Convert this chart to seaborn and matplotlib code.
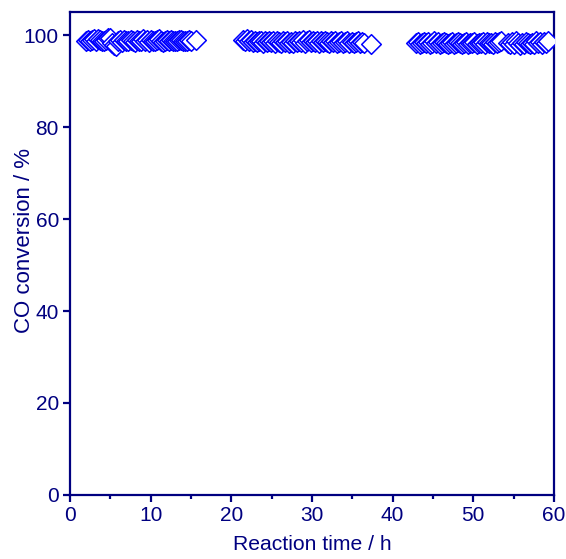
import matplotlib
matplotlib.use("Agg")
import matplotlib.pyplot as plt
import seaborn as sns
import pandas as pd
from matplotlib.ticker import MultipleLocator

# --- data ---
time_seg1 = [2.0, 2.25, 2.5, 2.75, 3.0, 3.25, 3.5, 3.75, 4.0, 4.25, 4.5, 4.75, 5.0,
             5.25, 5.5, 5.75, 6.0, 6.25, 6.5, 6.75, 7.0, 7.25, 7.5, 7.75, 8.0, 8.25,
             8.5, 8.75, 9.0, 9.25, 9.5, 9.75, 10.0, 10.25, 10.5, 10.75, 11.0, 11.25,
             11.5, 11.75, 12.0, 12.25, 12.5, 12.75, 13.0, 13.25, 13.5, 13.75, 14.0,
             14.25, 14.5, 14.75, 15.0, 15.6]
conv_seg1 = [98.8, 99.0, 98.6, 98.9, 99.1, 98.7, 99.2, 98.9, 98.6, 98.8,
             99.0, 99.4, 99.3, 98.2, 97.8, 97.6, 98.8, 99.0, 98.5, 98.9,
             98.6, 98.7, 99.0, 98.8, 98.4, 98.9, 98.6, 98.8, 99.1, 98.7,
             98.9, 98.5, 99.0, 98.8, 98.6, 98.9, 99.1, 98.7, 98.5, 98.8,
             99.0, 98.6, 98.9, 98.7, 98.8, 98.6, 98.9, 99.0, 98.7, 98.8,
             98.6, 98.9, 98.7, 98.9]
time_seg2 = [21.4, 21.65, 21.9, 22.15, 22.4, 22.65, 22.9, 23.15, 23.4, 23.65, 23.9,
             24.15, 24.4, 24.65, 24.9, 25.15, 25.4, 25.65, 25.9, 26.15, 26.4, 26.65,
             26.9, 27.15, 27.4, 27.65, 27.9, 28.15, 28.4, 28.65, 28.9, 29.15, 29.4,
             29.65, 29.9, 30.15, 30.4, 30.65, 30.9, 31.15, 31.4, 31.65, 31.9, 32.15,
             32.4, 32.65, 32.9, 33.15, 33.4, 33.65, 33.9, 34.15, 34.4, 34.65, 34.9,
             35.15, 35.4, 35.65, 35.9, 36.15, 36.4, 37.3]
conv_seg2 = [99.0, 98.8, 99.1, 98.7, 98.9, 98.5, 98.8, 98.4, 98.7, 98.6,
             98.3, 98.7, 98.5, 98.8, 98.4, 98.6, 98.2, 98.7, 98.5, 98.3,
             98.6, 98.4, 98.7, 98.2, 98.5, 98.3, 98.6, 98.4, 98.7, 98.5,
             98.9, 98.3, 98.6, 99.0, 98.4, 98.7, 98.5, 98.8, 98.3, 98.6,
             98.4, 98.7, 98.5, 98.2, 98.6, 98.4, 98.7, 98.3, 98.5, 98.6,
             98.2, 98.4, 98.6, 98.3, 98.5, 98.2, 98.4, 98.6, 98.3, 98.5,
             98.2, 98.0]
time_seg3 = [42.9, 43.15, 43.4, 43.65, 43.9, 44.15, 44.4, 44.65, 44.9, 45.15, 45.4,
             45.65, 45.9, 46.15, 46.4, 46.65, 46.9, 47.15, 47.4, 47.65, 47.9, 48.15,
             48.4, 48.65, 48.9, 49.15, 49.4, 49.65, 49.9, 50.15, 50.4, 50.65, 50.9,
             51.15, 51.4, 51.65, 51.9, 52.15, 52.4, 52.65, 52.9, 53.15, 53.4]
conv_seg3 = [98.2, 98.4, 98.1, 98.3, 98.5, 98.2, 98.4, 98.1, 98.3, 98.6,
             98.2, 98.4, 98.1, 98.3, 98.5, 98.2, 98.0, 98.3, 98.4, 98.1,
             98.3, 98.5, 98.2, 98.0, 98.3, 98.4, 98.1, 98.3, 98.2, 98.4,
             98.1, 98.3, 98.2, 98.4, 98.1, 98.5, 98.2, 98.3, 98.1, 98.4,
             98.2, 98.5, 98.6]
time_seg4 = [54.3, 54.55, 54.8, 55.05, 55.3, 55.55, 55.8, 56.05, 56.3, 56.55, 56.8,
             57.05, 57.3, 57.55, 57.8, 58.05, 58.3, 58.55, 58.8, 59.05, 59.3]
conv_seg4 = [98.3, 98.0, 98.4, 98.1, 98.6, 98.2, 97.9, 98.3, 98.1, 98.5,
             98.2, 98.0, 98.3, 98.1, 98.6, 98.2, 98.4, 98.1, 98.5, 98.3, 98.7]

x_ticks = [0, 10, 20, 30, 40, 50, 60]
y_ticks = [0, 20, 40, 60, 80, 100]

df = pd.DataFrame({
    "time": time_seg1 + time_seg2 + time_seg3 + time_seg4,
    "conv": conv_seg1 + conv_seg2 + conv_seg3 + conv_seg4,
})

sns.set_style("white")
plt.rcParams["font.family"] = ["Liberation Sans", "DejaVu Sans"]

navy = "#000080"
fig = plt.figure(figsize=(5.66, 5.59), dpi=100)
ax = fig.add_axes([0.1237, 0.1145, 0.855, 0.864])

sns.scatterplot(data=df, x="time", y="conv", ax=ax, marker="D", s=100,
                facecolor="white", edgecolor="#0000FF", linewidth=1.1, zorder=3)

ax.set_xlim(0, 60)
ax.set_ylim(0, 105)
ax.set_xticks(x_ticks)
ax.set_yticks(y_ticks)
ax.xaxis.set_minor_locator(MultipleLocator(5))

for sp in ax.spines.values():
    sp.set_color(navy)
    sp.set_linewidth(1.6)

ax.tick_params(axis="both", which="major", direction="out", length=5, width=1.6,
               colors=navy, labelsize=15, labelcolor=navy, pad=3)
ax.tick_params(axis="x", which="minor", direction="out", length=3, width=1.6,
               colors=navy, bottom=True)
ax.tick_params(bottom=True, left=True)

ax.set_xlabel("Reaction time / h", fontsize=15.2, color=navy)
ax.xaxis.set_label_coords(0.5, -0.082)
ax.xaxis.label.set_va("top")
ax.set_ylabel("CO conversion / %", fontsize=16, color=navy)
ax.yaxis.set_label_coords(-0.072, 0.527)

fig.savefig("out.png", dpi=100)
